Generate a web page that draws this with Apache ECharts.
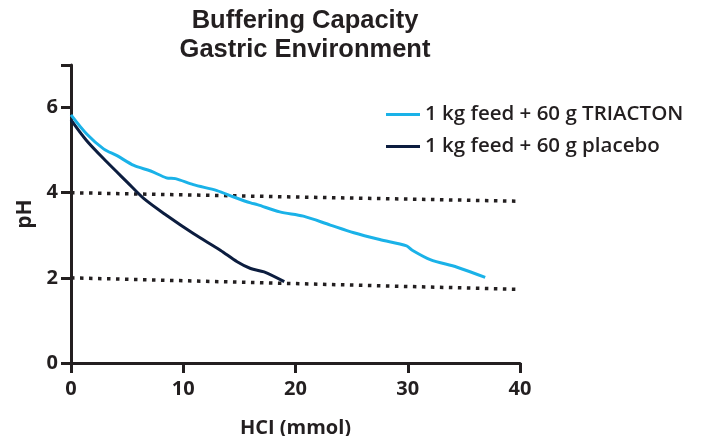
<!DOCTYPE html>
<html>
<head>
<meta charset="utf-8">
<script src="https://cdn.jsdelivr.net/npm/echarts@6/dist/echarts.min.js"></script>
<style>
  html, body { margin: 0; padding: 0; background: #fff; }
  #chart { width: 704px; height: 436px; }
</style>
</head>
<body>
<div id="chart"></div>
<script>
// HCl added (mmol) and measured pH
var triactonHcl = [0, 1.4, 2.9, 4.1, 5.6, 7.1, 8.5, 9.3, 10.9, 13.0, 14.5, 16.0, 16.6, 18.6, 20.7, 23.1, 25.2, 27.5, 29.9, 30.4, 32.0, 34.4, 36.9];
var triactonPh  = [5.83, 5.38, 5.03, 4.87, 4.64, 4.51, 4.35, 4.33, 4.19, 4.05, 3.90, 3.76, 3.72, 3.55, 3.45, 3.24, 3.06, 2.90, 2.75, 2.65, 2.43, 2.25, 2.01];
var placeboHcl  = [0, 1.4, 3.2, 5.0, 6.5, 8.5, 10.9, 13.3, 14.8, 16.0, 17.2, 19.0];
var placeboPh   = [5.71, 5.22, 4.72, 4.25, 3.86, 3.47, 3.04, 2.65, 2.38, 2.22, 2.14, 1.91];
// dotted reference lines
var refX = [0, 40];
var ref4 = [4.0, 3.80];
var ref2 = [2.0, 1.73];

var xTicks = [0, 10, 20, 30, 40];
var yTicks = [0, 2, 4, 6];

function pairs(xs, ys) {
  return xs.map(function (x, i) { return [x, ys[i]]; });
}

var chart = echarts.init(document.getElementById('chart'));
var axisColor = '#231f20';
var labelFont = '"Open Sans", sans-serif';

chart.setOption({
  animation: false,
  title: {
    text: 'Buffering Capacity\nGastric Environment',
    left: 300,
    textAlign: 'center',
    top: 1,
    textStyle: {
      fontFamily: '"Liberation Sans", Arial, sans-serif',
      fontWeight: 'bold',
      fontSize: 25.5,
      lineHeight: 29,
      color: '#231f20'
    }
  },
  legend: {
    left: 381,
    top: 99,
    orient: 'vertical',
    itemWidth: 34,
    itemHeight: 3,
    itemGap: 11,
    icon: 'rect',
    data: ['1 kg feed + 60 g TRIACTON', '1 kg feed + 60 g placebo'],
    textStyle: {
      fontFamily: labelFont,
      fontWeight: 600,
      fontSize: 20.5,
      color: '#231f20'
    }
  },
  grid: { left: 71, right: 184, top: 65, bottom: 73, containLabel: false, outerBoundsMode: 'none' },
  xAxis: {
    type: 'value',
    min: 0,
    max: 40,
    interval: 10,
    name: 'HCI (mmol)',
    nameLocation: 'middle',
    nameGap: 55,
    nameTextStyle: { fontFamily: labelFont, fontWeight: 'bold', fontSize: 20, color: axisColor },
    axisLine: { lineStyle: { color: axisColor, width: 3 } },
    axisTick: { show: true, length: 10, lineStyle: { color: axisColor, width: 3 } },
    axisLabel: {
      fontFamily: labelFont, fontWeight: 'bold', fontSize: 20, color: axisColor, margin: 16,
      formatter: function (v) { return xTicks.indexOf(v) >= 0 ? v : ''; }
    },
    splitLine: { show: false }
  },
  yAxis: {
    type: 'value',
    min: 0,
    max: 7,
    interval: 2,
    name: 'pH',
    nameLocation: 'middle',
    nameGap: 34,
    nameRotate: 90,
    nameTextStyle: { fontFamily: labelFont, fontWeight: 'bold', fontSize: 21, color: axisColor },
    axisLine: { show: true, lineStyle: { color: axisColor, width: 3 } },
    axisTick: { show: true, length: 10, lineStyle: { color: axisColor, width: 3 } },
    axisLabel: {
      fontFamily: labelFont, fontWeight: 'bold', fontSize: 20, color: axisColor, margin: 13,
      formatter: function (v) { return yTicks.indexOf(v) >= 0 ? v : ''; }
    },
    splitLine: { show: false }
  },
  series: [
    {
      name: 'ref4',
      type: 'line',
      data: pairs(refX, ref4),
      symbol: 'none',
      silent: true,
      lineStyle: { color: axisColor, width: 3.5, type: [3.5, 5.5] },
      z: 1
    },
    {
      name: 'ref2',
      type: 'line',
      data: pairs(refX, ref2),
      symbol: 'none',
      silent: true,
      lineStyle: { color: axisColor, width: 3.5, type: [3.5, 5.5] },
      z: 1
    },
    {
      name: '1 kg feed + 60 g TRIACTON',
      type: 'line',
      data: pairs(triactonHcl, triactonPh),
      symbol: 'none',
      smooth: 0.3,
      color: '#1ab2e8',
      lineStyle: { color: '#1ab2e8', width: 3 },
      z: 3
    },
    {
      name: '1 kg feed + 60 g placebo',
      type: 'line',
      data: pairs(placeboHcl, placeboPh),
      symbol: 'none',
      smooth: 0.3,
      color: '#0c1d3f',
      lineStyle: { color: '#0c1d3f', width: 3 },
      z: 2
    }
  ]
});
</script>
</body>
</html>
